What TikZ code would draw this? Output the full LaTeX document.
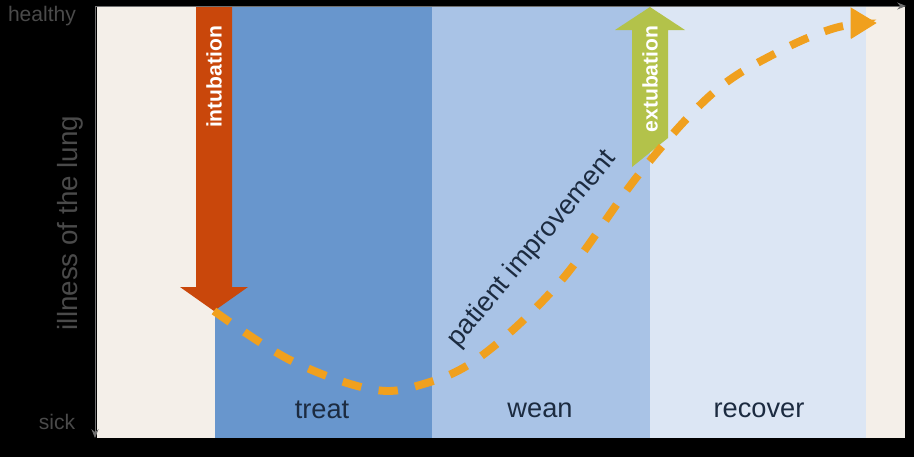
\documentclass[tikz,border=0pt]{standalone}
\usepackage{fontspec}
\setmainfont{Liberation Sans}
\usetikzlibrary{positioning,calc,arrows.meta}
\definecolor{plotbg}{HTML}{F4EFE9}
\definecolor{treatblue}{HTML}{6896CD}
\definecolor{weanblue}{HTML}{A9C3E6}
\definecolor{recoverblue}{HTML}{DCE6F4}
\definecolor{intured}{HTML}{C9470B}
\definecolor{extugreen}{HTML}{B3C24A}
\definecolor{curveorange}{HTML}{F0A01E}
\definecolor{labelnavy}{HTML}{1C2B40}
\definecolor{axisgray}{HTML}{4A4A4A}
\definecolor{axisline}{HTML}{707070}

\begin{document}
\begin{tikzpicture}[x=0.02cm,y=-0.02cm,
    phase/.style={font=\fontsize{15.5}{18}\selectfont, text=labelnavy},
    axislabel/.style={font=\fontsize{12}{14}\selectfont, text=axisgray},
    arrowlabel/.style={font=\bfseries\fontsize{12}{14}\selectfont, text=white, rotate=90}]
    % Background
    \fill[black] (0,0) rectangle (914,457);
    \useasboundingbox (0,0) rectangle (914,457);
    \fill[plotbg] (97,7) rectangle (905,438);

    % Phases
    \fill[treatblue] (215,7) rectangle (432,438);
    \fill[weanblue] (432,7) rectangle (650,438);
    \fill[recoverblue] (650,7) rectangle (866,438);
    \node[phase] (treat) at (322,410) {treat};
    \node[phase] (wean) at (540,410) {wean};
    \node[phase] (recover) at (759,410) {recover};

    % Axes
    \draw[axisline, -{Stealth[length=5pt,width=4pt]}] (95,6) -- (906,6);
    \draw[axisline, -{Stealth[length=5pt,width=4pt]}] (95,6) -- (95,438);
    \node[axislabel] (healthy) at (42,16) {healthy};
    \node[axislabel] (sick) at (57,422) {sick};
    \node[axislabel, font=\fontsize{15.8}{18}\selectfont, rotate=90] (lung) at (70,223) {illness of the lung};

    % Intubation
    \fill[intured] (196,7) -- (232,7) -- (232,287) -- (248,287) -- (214,311) -- (180,287) -- (196,287) -- cycle;
    \coordinate (intutip) at (214,311);
    \node[arrowlabel] (intubation) at (214,77) {intubation};

    % Extubation
    \fill[extugreen] (632,167) -- (632,30) -- (615,30) -- (650,7) -- (685,30) -- (668,30) -- (668,138) -- cycle;
    \node[arrowlabel] (extubation) at (650,79) {extubation};

    % Patient curve
    \coordinate (healed) at (877,23);
    \draw[curveorange, line width=4.5pt, dash pattern=on 11pt off 10pt,
        -{Triangle[length=15pt,width=17pt]}]
        plot[smooth, tension=0.6] coordinates {(intutip) (290,360) (370,389) (420,385) (480,357) (560,282) (640,173) (713,93) (778,52) (835,28) (healed)};
    \node[phase, rotate=50] (improvement) at (532,249) {patient improvement};
\end{tikzpicture}
\end{document}
